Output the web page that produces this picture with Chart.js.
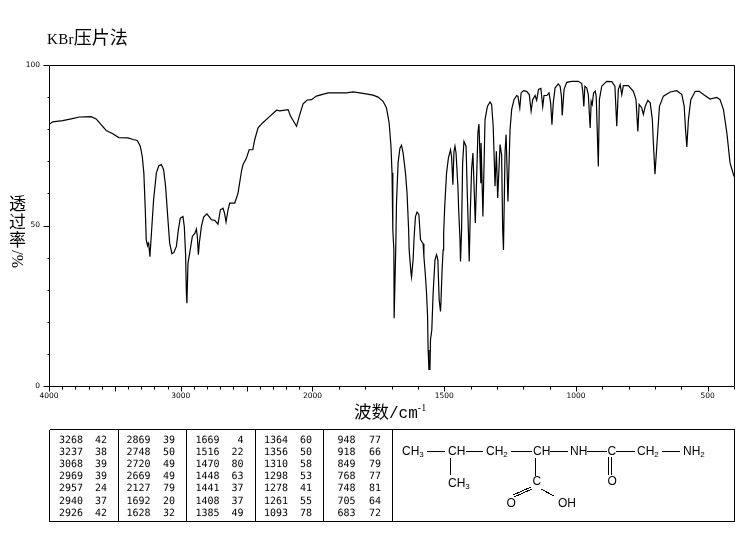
<!DOCTYPE html>
<html>
<head>
<meta charset="utf-8">
<title>KBr压片法</title>
<script src="https://cdn.jsdelivr.net/npm/chart.js@4"></script>
<style>
    html, body { margin: 0; padding: 0; background: #fff; }
    #page { position: relative; width: 748px; height: 539px; overflow: hidden; color: #000; }
    #page canvas { position: absolute; left: 0; top: 0; }
    .txt { position: absolute; white-space: nowrap; line-height: 1; font-family: "Noto Sans CJK SC", sans-serif; }
    .latin { font-family: "Liberation Serif", serif; }
    .mono { font-family: "Liberation Mono", monospace; }
    #peaks { position: absolute; left: 0; top: 0; }
</style>
</head>
<body>
<div id="page">
    <canvas id="irChart" width="748" height="539"></canvas>

    <div class="txt" style="left:47px;top:27px;font-size:18px"><span class="latin" style="font-size:15px;letter-spacing:0.3px">KBr</span>压片法</div>

    <div class="txt" style="left:9px;top:194px;font-size:17px">透</div>
    <div class="txt" style="left:9px;top:212px;font-size:17px">过</div>
    <div class="txt" style="left:9px;top:230px;font-size:17px">率</div>
    <div class="txt latin" style="left:10px;top:268px;font-size:16px;transform-origin:0 0;transform:rotate(-90deg)">%/</div>

    <div class="txt" style="left:354px;top:402px;font-size:17.5px">波数<span class="mono" style="font-size:16px">/cm</span><sup style="font-size:10px;position:relative;top:-7px;vertical-align:baseline" class="latin">-1</sup></div>

    <svg id="peaks" width="748" height="539" shape-rendering="crispEdges"></svg>
</div>

<script>
// Espectro IR: numero de onda y transmitancia
const waveNumbers = [
    4000, 3972, 3896, 3832, 3769, 3680, 3642, 3566, 3516, 3470, 3401, 3363, 3330, 3307, 3292, 3280,
    3269, 3262, 3252, 3246, 3242, 3234, 3224, 3206, 3185, 3166, 3147, 3130, 3115, 3097, 3084, 3067,
    3052, 3033, 3018, 3003, 2983, 2973, 2963, 2957, 2953, 2945, 2932, 2912, 2892, 2881, 2874, 2866,
    2859, 2843, 2826, 2801, 2767, 2742, 2717, 2699, 2679, 2668, 2656, 2641, 2628, 2590, 2565, 2539,
    2527, 2501, 2481, 2453, 2438, 2413, 2375, 2324, 2273, 2248, 2185, 2166, 2121, 2096, 2071, 2040,
    2007, 1985, 1941, 1871, 1846, 1820, 1770, 1751, 1732, 1719, 1709, 1702, 1698, 1695, 1691, 1690,
    1684, 1681, 1675, 1668, 1662, 1656, 1647, 1641, 1635, 1633, 1626, 1624, 1618, 1614, 1609, 1603,
    1596, 1590, 1580, 1577, 1572, 1567, 1563, 1561, 1558, 1554, 1552, 1547, 1542, 1535, 1529, 1524,
    1522, 1519, 1514, 1512, 1508, 1504, 1502, 1498, 1491, 1484, 1476, 1472, 1467, 1463, 1459, 1455,
    1448, 1445, 1440, 1438, 1434, 1430, 1425, 1417, 1412, 1409, 1405, 1401, 1396, 1391, 1387, 1382,
    1377, 1372, 1368, 1361, 1360, 1353, 1345, 1336, 1326, 1320, 1314, 1307, 1302, 1297, 1288, 1282,
    1278, 1275, 1269, 1265, 1258, 1250, 1244, 1235, 1225, 1220, 1213, 1208, 1199, 1187, 1177, 1170,
    1164, 1155, 1149, 1142, 1133, 1126, 1121, 1110, 1102, 1096, 1091, 1086, 1079, 1067, 1060, 1055,
    1052, 1045, 1035, 1016, 991, 978, 974, 970, 966, 959, 953, 946, 942, 938, 933, 927,
    923, 915, 911, 902, 883, 864, 852, 845, 839, 832, 826, 820, 801, 782, 772, 765,
    760, 750, 744, 737, 727, 718, 710, 706, 700, 693, 683, 668, 642, 617, 598, 589,
    584, 579, 573, 564, 547, 532, 516, 491, 465, 453, 440, 427, 415, 400
];
const transmittance = [
    81.5, 82.3, 82.7, 83.2, 83.8, 83.9, 83.2, 79.6, 78.6, 77.4, 77.3, 76.8, 76.5, 74.7, 71.5, 66.4,
    54.9, 45.6, 43.7, 44.5, 43.9, 40.3, 46.6, 58, 66.4, 68.6, 69, 67.4, 62.2, 51.8, 44.5, 41.2,
    41.6, 43.5, 48.7, 52.3, 52.8, 49.7, 40.9, 28.9, 25.8, 38.3, 41.4, 46.6, 47.6, 48.9, 46.6, 40.9,
    44.5, 49.7, 52.6, 53.6, 51.8, 51.6, 50.4, 54.9, 55.4, 53.9, 51.1, 54.9, 57, 57, 60.1, 66.9,
    69, 71, 73.6, 73.6, 76.8, 80.4, 82.1, 84, 85.9, 85.7, 86.1, 84, 80.9, 84.6, 87.9, 89.1,
    89.2, 90.3, 91.3, 91.3, 91.6, 91.3, 90.6, 90, 88.7, 86.6, 82, 74.7, 66.4, 48.7, 42.4, 21.1,
    42.4, 57, 69.5, 74.1, 75, 72.6, 66.4, 60.1, 48.7, 42.4, 35.2, 33.9, 39.3, 46.6, 52.8, 54.2,
    53.4, 45.6, 44.3, 40.3, 35.2, 28.9, 21.6, 11.2, 5.2, 5.2, 14.4, 17.5, 28.9, 39.3, 40.9, 39.3,
    34.1, 26.8, 23.2, 26.8, 36.2, 42.4, 47.6, 55.9, 66.4, 71, 73.6, 71.5, 62.7, 73, 74.7, 72.6,
    62.2, 54.9, 45.6, 38.8, 48.7, 69.5, 76.2, 74.7, 59, 50.8, 38.8, 53.9, 67.4, 72.6, 63.2, 50.8,
    64.3, 79, 81.6, 63.2, 75.7, 52.8, 83, 87.1, 88.5, 87.7, 80.9, 62.2, 73.1, 58.6, 75.2, 72,
    48.7, 42.4, 73, 78.3, 57.5, 79.9, 86.1, 89.2, 90.5, 90.2, 86.6, 91.3, 92, 91.8, 90.8, 85.6,
    89.2, 90.5, 89, 92.4, 92.7, 87, 90.5, 90.5, 91.3, 88.2, 81.4, 88.2, 92.9, 94.1, 93.4, 90.3,
    84.3, 92.4, 94.6, 94.9, 94.9, 94.2, 91.8, 87.1, 93.4, 92.9, 90.8, 80.4, 88.7, 87.7, 91.3, 91.9,
    90.3, 68.4, 89.2, 93.4, 94.9, 94.8, 93.4, 80.9, 92.4, 93.9, 90.8, 93.6, 93.6, 91.8, 89.2, 79.3,
    87.7, 86.6, 84.6, 87.1, 89, 88.2, 83, 75.7, 66, 74.7, 87.1, 90.3, 91.6, 92, 90.8, 87.1,
    79.9, 74.5, 83, 89.2, 91.8, 91.8, 90.8, 89.4, 89.9, 89.2, 86.1, 78.8, 69.5, 65.3
];

// Ejes
const xTickValues = [
    4000, 3900, 3800, 3700, 3600, 3500, 3400, 3300, 3200, 3100, 3000, 2900, 2800, 2700, 2600, 2500, 2400, 2300, 2200, 2100,
    2000, 1900, 1800, 1700, 1600, 1500, 1400, 1300, 1200, 1100, 1000, 900, 800, 700, 600, 500, 400
];
const xLabelValues = [4000, 3000, 2000, 1500, 1000, 500];
const yTickValues = [0, 10, 20, 30, 40, 50, 60, 70, 80, 90, 100];
const yLabelValues = [0, 50, 100];

// Tabla de picos, una lista por columna
const peakWave1 = [3268, 3237, 3068, 2969, 2957, 2940, 2926];
const peakTrans1 = [42, 38, 39, 39, 24, 37, 42];
const peakWave2 = [2869, 2748, 2720, 2669, 2127, 1692, 1628];
const peakTrans2 = [39, 50, 49, 49, 79, 20, 32];
const peakWave3 = [1669, 1516, 1470, 1448, 1441, 1408, 1385];
const peakTrans3 = [4, 22, 80, 63, 37, 37, 49];
const peakWave4 = [1364, 1356, 1310, 1298, 1278, 1261, 1093];
const peakTrans4 = [60, 50, 58, 53, 41, 55, 78];
const peakWave5 = [948, 918, 849, 768, 748, 705, 683];
const peakTrans5 = [77, 66, 79, 77, 81, 64, 72];

// El eje de numero de onda cambia de escala en 2000 cm-1
class WaveScale extends Chart.LinearScale {
    buildTicks() {
        return xTickValues.map(v => ({ value: v }));
    }
    getPixelForValue(value) {
        const units = value >= 2000 ? (4000 - value) / 1000 : 2 + (2000 - value) / 500;
        return this.getPixelForDecimal(units / 5.2);
    }
}
WaveScale.id = 'wave';
WaveScale.defaults = Chart.LinearScale.defaults;
Chart.register(WaveScale);

// Marco y marcas de los ejes
const framePlugin = {
    id: 'frame',
    afterDatasetsDraw(chart) {
        const { ctx, chartArea: area, scales } = chart;
        const left = Math.round(area.left) + 0.5;
        const right = Math.round(area.right) + 0.5;
        const top = Math.round(area.top) + 0.5;
        const bottom = Math.round(area.bottom) + 0.5;
        ctx.save();
        ctx.strokeStyle = '#000';
        ctx.lineWidth = 1;
        ctx.beginPath();
        ctx.rect(left, top, right - left, bottom - top);
        xTickValues.forEach(v => {
            const px = Math.round(scales.x.getPixelForValue(v)) + 0.5;
            ctx.moveTo(px, bottom);
            ctx.lineTo(px, bottom + (v % 500 === 0 ? 5 : 3));
        });
        yTickValues.forEach(v => {
            const py = Math.round(scales.y.getPixelForValue(v)) + 0.5;
            ctx.moveTo(left, py);
            ctx.lineTo(left - (v % 50 === 0 ? 6 : 2), py);
        });
        ctx.stroke();
        ctx.restore();
    }
};

new Chart(document.getElementById('irChart'), {
    type: 'line',
    data: {
        labels: waveNumbers,
        datasets: [{
            data: waveNumbers.map((w, i) => ({ x: w, y: transmittance[i] })),
            borderColor: '#000',
            borderWidth: 1.2,
            pointRadius: 0,
            tension: 0,
            fill: false
        }]
    },
    options: {
        responsive: false,
        animation: false,
        parsing: false,
        layout: { padding: { left: 0, right: 14, top: 65, bottom: 0 } },
        plugins: { legend: { display: false }, tooltip: { enabled: false } },
        scales: {
            x: {
                type: 'wave',
                min: 400,
                max: 4000,
                afterFit(scale) { scale.height = 153; },
                grid: { display: false, drawTicks: false },
                border: { display: false },
                ticks: {
                    autoSkip: false,
                    maxRotation: 0,
                    padding: 6,
                    color: '#000',
                    font: { family: '"DejaVu Sans"', size: 7.5 },
                    callback: v => (xLabelValues.includes(v) ? String(v) : '')
                }
            },
            y: {
                min: 0,
                max: 100,
                afterFit(scale) { scale.width = 49; },
                grid: { display: false, drawTicks: false },
                border: { display: false },
                afterBuildTicks(scale) { scale.ticks = yTickValues.map(v => ({ value: v })); },
                ticks: {
                    autoSkip: false,
                    padding: 9,
                    color: '#000',
                    font: { family: '"DejaVu Sans"', size: 7.5 },
                    callback: v => (yLabelValues.includes(v) ? String(v) : '')
                }
            }
        }
    },
    plugins: [framePlugin]
});

// Tabla de picos y formula en SVG
const svg = document.getElementById('peaks');
const NS = 'http://www.w3.org/2000/svg';

function addText(x, y, str, anchor, size) {
    const t = document.createElementNS(NS, 'text');
    t.setAttribute('x', x);
    t.setAttribute('y', y);
    t.setAttribute('text-anchor', anchor || 'start');
    t.setAttribute('font-family', 'DejaVu Sans Mono');
    t.setAttribute('font-size', size || 10);
    t.setAttribute('text-rendering', 'geometricPrecision');
    t.textContent = str;
    svg.appendChild(t);
}

function addLine(x1, y1, x2, y2) {
    const l = document.createElementNS(NS, 'line');
    l.setAttribute('x1', x1);
    l.setAttribute('y1', y1);
    l.setAttribute('x2', x2);
    l.setAttribute('y2', y2);
    l.setAttribute('stroke', '#000');
    l.setAttribute('stroke-width', 1);
    svg.appendChild(l);
}

// Caja y divisiones
addLine(49.5, 429.5, 734.5, 429.5);
addLine(49.5, 521.5, 734.5, 521.5);
[49.5, 118.5, 186.5, 255.5, 323.5, 392.5, 734.5].forEach(x => addLine(x, 429.5, x, 521.5));

const peakColumns = [
    [peakWave1, peakTrans1, 83, 107],
    [peakWave2, peakTrans2, 150.5, 175],
    [peakWave3, peakTrans3, 219.5, 243.5],
    [peakWave4, peakTrans4, 288, 312],
    [peakWave5, peakTrans5, 355.5, 381]
];
const rowY = 442.5;
const rowGap = 12.2;
peakColumns.forEach(([waves, values, xWave, xValue]) => {
    waves.forEach((w, i) => {
        addText(xWave, rowY + i * rowGap, w, 'end');
        addText(xValue, rowY + i * rowGap, values[i], 'end');
    });
});

// Formula
function addGroup(x, y, main, sub) {
    const t = document.createElementNS(NS, 'text');
    t.setAttribute('x', x);
    t.setAttribute('y', y);
    t.setAttribute('font-family', 'Liberation Sans');
    t.setAttribute('font-size', 12);
    t.textContent = main;
    if (sub) {
        const s = document.createElementNS(NS, 'tspan');
        s.setAttribute('font-size', 8);
        s.setAttribute('dy', 2);
        s.textContent = sub;
        t.appendChild(s);
    }
    svg.appendChild(t);
}
addGroup(402, 455, 'CH', '3');
addGroup(448, 455, 'CH');
addGroup(486, 455, 'CH', '2');
addGroup(533, 455, 'CH');
addGroup(570, 455, 'NH');
addGroup(607.5, 455, 'C');
addGroup(637, 455, 'CH', '2');
addGroup(683, 455, 'NH', '2');
addGroup(448, 487, 'CH', '3');
addGroup(532.5, 485, 'C');
addGroup(607.5, 485, 'O');
addGroup(506.5, 507, 'O');
addGroup(558, 507, 'OH');
addLine(427, 451, 445, 451);
addLine(466, 451, 483, 451);
addLine(511, 451, 532, 451);
addLine(550, 451, 568, 451);
addLine(587, 451, 607, 451);
addLine(616, 451, 635, 451);
addLine(662, 451, 680, 451);
addLine(450.5, 458, 450.5, 475);
addLine(535, 458, 535, 476);
addLine(608.5, 457, 608.5, 475);
addLine(611.5, 457, 611.5, 475);
addLine(513, 495, 531, 487);
addLine(514, 497, 532, 489);
addLine(541, 489, 554, 496);
</script>
</body>
</html>
